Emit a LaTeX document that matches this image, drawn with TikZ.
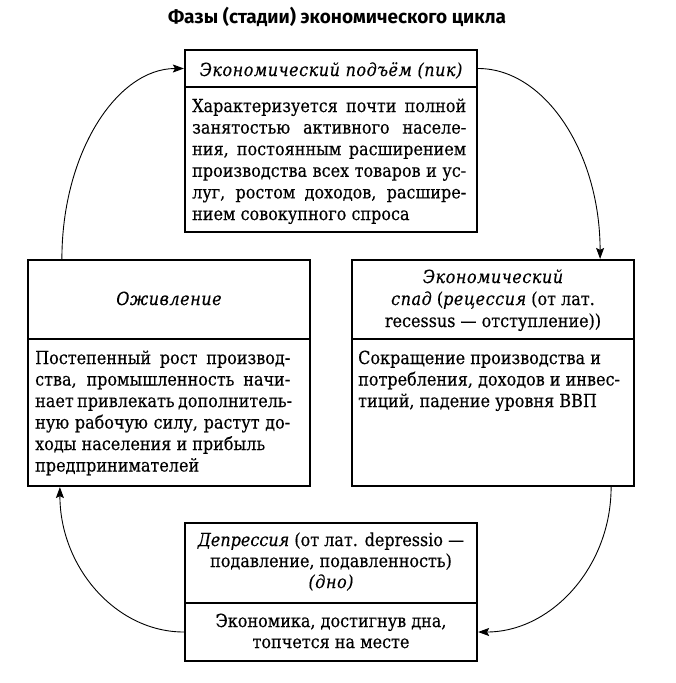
\documentclass[tikz,border=0pt]{standalone}
\usepackage{fontspec}
\setmainfont{DejaVu Serif}[FakeStretch=0.89,FakeBold=0.3]
\newfontfamily\titlefont{Fira Sans}
\usetikzlibrary{arrows.meta}
\newlength\bw
\newcommand\jl[1]{\makebox[\bw][s]{#1}}
\newcommand\spit[1]{{\itshape\addfontfeature{LetterSpace=3}#1}}
\newcommand\bodysize{\fontsize{18}{21.5}\selectfont}
\begin{document}
\begin{tikzpicture}[x=1pt,y=-1pt,
  box/.style={draw, line width=2.2pt, inner sep=0pt},
  txt/.style={inner sep=0pt, font=\bodysize},
  arr/.style={line width=0.9pt, -{Stealth[length=11pt,width=8pt,inset=2pt]}}]
\useasboundingbox (0,0) rectangle (676,683);
% title
\node[inner sep=0pt, anchor=base, font={\titlefont\bfseries\fontsize{19}{22}\selectfont}] (title) at (337,23) {Фазы (стадии) экономического цикла};
% boxes
\node[box, minimum width=292pt, minimum height=37pt] (toph) at (331,68.5) {};
\node[box, minimum width=292pt, minimum height=145pt] (topb) at (331,159.5) {};
\node[box, minimum width=282pt, minimum height=79pt] (lefth) at (169,299.5) {};
\node[box, minimum width=282pt, minimum height=147pt] (leftb) at (169,412.5) {};
\node[box, minimum width=282pt, minimum height=79pt] (righth) at (493,299.5) {};
\node[box, minimum width=282pt, minimum height=147pt] (rightb) at (493,412.5) {};
\node[box, minimum width=292pt, minimum height=80pt] (both) at (331,563) {};
\node[box, minimum width=292pt, minimum height=58pt] (botb) at (331,632) {};
% top text
\node[txt, anchor=base] (topt) at (331,76) {\spit{Экономический подъём (пик)}};
\setlength\bw{274pt}
\foreach \t [count=\i] in {{\jl{Характеризуется почти полной}},{\jl{занятостью активного  населе-}},{\jl{ния, постоянным расширением}},{\jl{производства всех товаров и ус-}},{\jl{луг, ростом доходов, расшире-}},{нием совокупного спроса}}
  \node[txt, anchor=base west] (topl\i) at (192,{112+21.6*(\i-1)}) {\t};
% left text
\node[txt, anchor=base] (leftt) at (169,305) {\spit{Оживление}};
\setlength\bw{255pt}
\foreach \t [count=\i] in {{\jl{Постепенный рост производ-}},{\jl{ства, промышленность начи-}},{\jl{нает привлекать дополнитель-}},{\jl{ную рабочую силу, растут до-}},{ходы населения и прибыль},{предпринимателей}}
  \node[txt, anchor=base west] (leftl\i) at (35,{364+21.5*(\i-1)}) {\t};
% right text
\node[txt, anchor=base] (rightt1) at (493,283) {\spit{Экономический}};
\node[txt, anchor=base] (rightt2) at (493,305) {\spit{спад} (\spit{рецессия} (от лат.};
\node[txt, anchor=base] (rightt3) at (493,327) {recessus — отступление))};
\foreach \t [count=\i] in {{Сокращение производства и},{потребления, доходов и инвес-},{тиций, падение уровня ВВП}}
  \node[txt, anchor=base west] (rightl\i) at (358,{364+21.5*(\i-1)}) {\t};
% bottom text
\node[txt, anchor=base] (bott1) at (331,546) {\textit{Депрессия} (от лат. depressio —};
\node[txt, anchor=base] (bott2) at (331,567) {подавление,  подавленность)};
\node[txt, anchor=base] (bott3) at (331,588) {\spit{(дно)}};
\node[txt, anchor=base] (botl1) at (331,627) {Экономика, достигнув дна,};
\node[txt, anchor=base] (botl2) at (331,648) {топчется на месте};
% connectors
\draw[arr] ([xshift=35pt]lefth.north west) .. controls +(0,-106) and +(-67,0) .. (toph.west);
\draw[arr] (toph.east) .. controls +(67,0) and +(0,-106) .. ([xshift=-35pt]righth.north east);
\draw[arr] ([xshift=-24pt]rightb.south east) .. controls +(0,80) and +(73,0) .. (botb.east);
\draw[arr] (botb.west) .. controls +(-68,0) and +(0,80) .. ([xshift=33pt]leftb.south west);
\end{tikzpicture}
\end{document}
